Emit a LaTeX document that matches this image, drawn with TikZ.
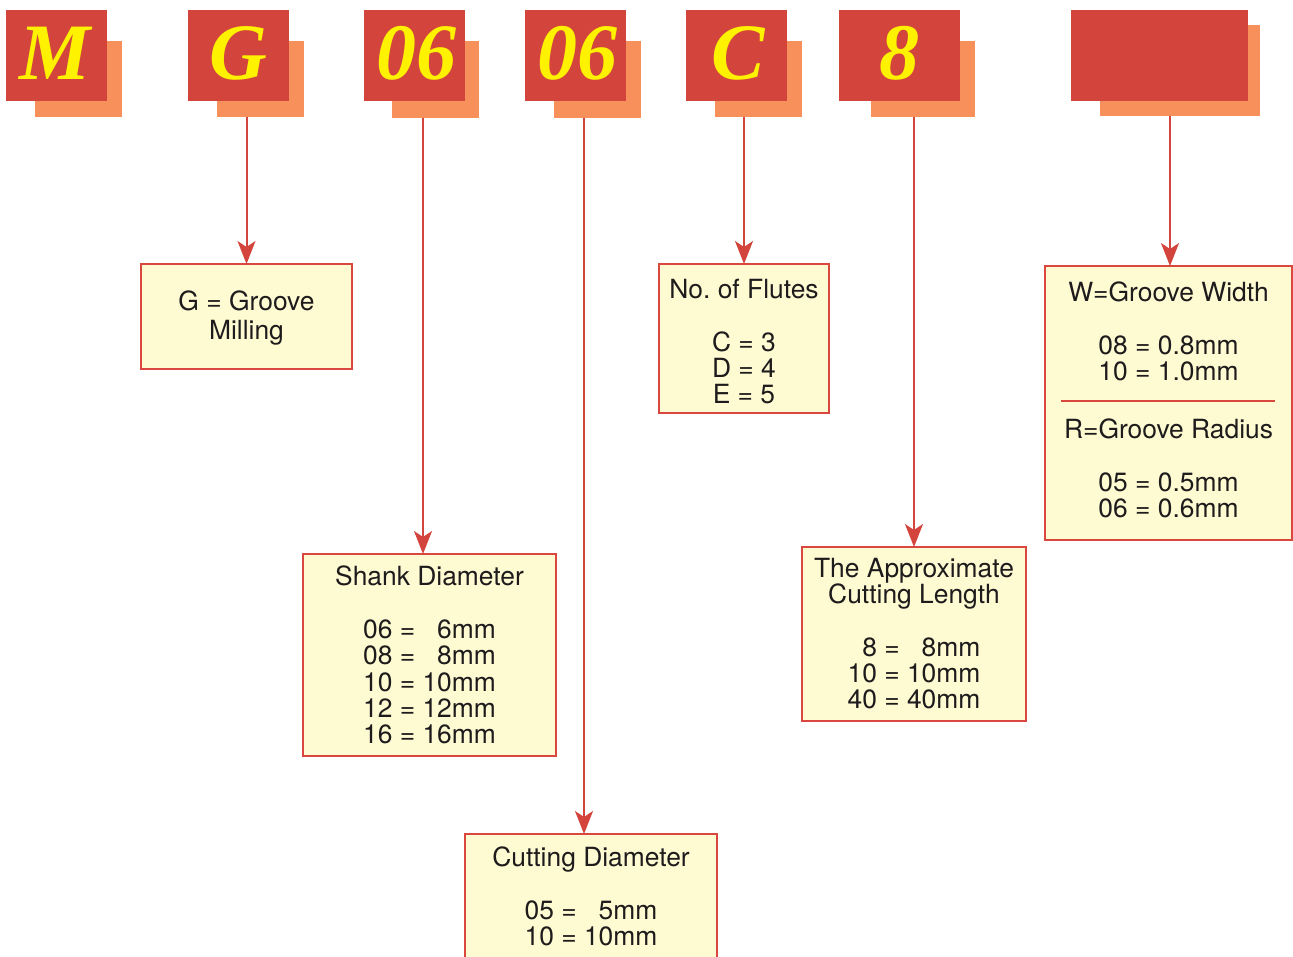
\documentclass[tikz,border=0pt]{standalone}
\usepackage{fontspec}
\setmainfont{TeX Gyre Heros}
\newfontfamily\codefont{Liberation Serif}
\usetikzlibrary{arrows.meta,calc}
\definecolor{frontred}{HTML}{D3443D}
\definecolor{backorange}{HTML}{F7905A}
\definecolor{codeyellow}{HTML}{FFF200}
\definecolor{boxfill}{HTML}{FEFAD2}
\definecolor{boxline}{HTML}{D9473F}
\definecolor{linkred}{HTML}{D3443D}
\definecolor{ink}{HTML}{1E1B1C}
\begin{document}
\begin{tikzpicture}[x=1pt,y=-1pt,
  backbox/.style={fill=backorange,draw=none,inner sep=0pt,outer sep=0pt},
  frontbox/.style={fill=frontred,draw=none,inner sep=0pt,outer sep=0pt},
  codeletter/.style={anchor=base,inner sep=0pt,text=codeyellow,font=\codefont\bfseries\itshape\fontsize{80}{80}\selectfont},
  infobox/.style={fill=boxfill,draw=boxline,line width=1.5pt,inner sep=0pt,outer sep=0pt},
  infotext/.style={anchor=north,inner sep=0pt,align=center,text=ink,font=\fontsize{26.4}{26.3}\selectfont},
  link/.style={draw=linkred,line width=2pt,-{Stealth[length=23pt,width=18pt,inset=6pt]}},
  sepline/.style={draw=boxline,line width=2.5pt}]
\useasboundingbox (0,0) rectangle (1293,956);

% back (orange) boxes
\node[backbox,minimum width=87pt,minimum height=76pt] (bM) at (78.5,79) {};
\node[backbox,minimum width=87pt,minimum height=76pt] (bG) at (260.5,79) {};
\node[backbox,minimum width=87pt,minimum height=77pt] (bA) at (435.5,79.5) {};
\node[backbox,minimum width=87pt,minimum height=77pt] (bB) at (597.5,79.5) {};
\node[backbox,minimum width=87pt,minimum height=76pt] (bC) at (758.5,79) {};
\node[backbox,minimum width=104pt,minimum height=76pt] (bE) at (923,79) {};
\node[backbox,minimum width=160pt,minimum height=91pt] (bL) at (1180,70.5) {};

% front (red) boxes
\node[frontbox,minimum width=101pt,minimum height=91pt] (fM) at (56.5,55.5) {};
\node[frontbox,minimum width=101pt,minimum height=91pt] (fG) at (238.5,55.5) {};
\node[frontbox,minimum width=101pt,minimum height=91pt] (fA) at (414.5,55.5) {};
\node[frontbox,minimum width=101pt,minimum height=91pt] (fB) at (575.5,55.5) {};
\node[frontbox,minimum width=101pt,minimum height=91pt] (fC) at (736.5,55.5) {};
\node[frontbox,minimum width=121pt,minimum height=91pt] (fE) at (899.5,55.5) {};
\node[frontbox,minimum width=177pt,minimum height=91pt] (fL) at (1159.5,55.5) {};

% code letters
\node[codeletter] (lM) at (55,79) {M};
\node[codeletter] (lG) at (238.5,79) {G};
\node[codeletter] (lA) at (416,79) {06};
\node[codeletter] (lB) at (577,79) {06};
\node[codeletter] (lC) at (738,79) {C};
\node[codeletter] (lE) at (899.5,79) {8};

% info boxes
\node[infobox,minimum width=211pt,minimum height=105pt] (gbox) at (246.5,316.5) {};
\node[infobox,minimum width=253pt,minimum height=202pt] (shank) at (429.5,655) {};
\node[infobox,minimum width=252pt,minimum height=166pt] (cutting) at (591,917) {};
\node[infobox,minimum width=170pt,minimum height=149pt] (flutes) at (744,338.5) {};
\node[infobox,minimum width=224pt,minimum height=174pt] (approx) at (914,634) {};
\node[infobox,minimum width=247pt,minimum height=274pt] (wbox) at (1168.5,403) {};

% texts
\node[infotext] (tg) at (246.5,291) {G = Groove\\[2.7pt]Milling};
\node[infotext] (ts) at (429.5,566) {Shank Diameter\\[26.3pt]06 = \hphantom{1}6mm\\08 = \hphantom{1}8mm\\10 = 10mm\\12 = 12mm\\16 = 16mm};
\node[infotext] (tc) at (591,847) {Cutting Diameter\\[26.3pt]05 = \hphantom{1}5mm\\10 = 10mm};
\node[infotext] (tf) at (744,279) {No.\ of Flutes\\[26.3pt]C = 3\\D = 4\\E = 5};
\node[infotext] (ta) at (914,558) {The Approximate\\Cutting Length\\[26.3pt]\hphantom{1}8 = \hphantom{1}8mm\\10 = 10mm\\40 = 40mm};
\node[infotext] (tw) at (1168.5,282) {W=Groove Width\\[26.3pt]08 = 0.8mm\\10 = 1.0mm};
\node[infotext] (tr) at (1168.5,419) {R=Groove Radius\\[26.3pt]05 = 0.5mm\\06 = 0.6mm};
\draw[sepline] ([xshift=16pt,yshift=2pt]wbox.west) -- ([xshift=-17pt,yshift=2pt]wbox.east);

% connectors
\coordinate (sA) at (423,118);
\coordinate (sB) at (584,118);
\coordinate (sL) at (1170,116);
\draw[link] (gbox.north |- bG.south) -- (gbox.north);
\draw[link] (sA) -- (sA |- shank.north);
\draw[link] (sB) -- (sB |- cutting.north);
\draw[link] (flutes.north |- bC.south) -- (flutes.north);
\draw[link] (approx.north |- bE.south) -- (approx.north);
\draw[link] (sL) -- (sL |- wbox.north);
\end{tikzpicture}
\end{document}
